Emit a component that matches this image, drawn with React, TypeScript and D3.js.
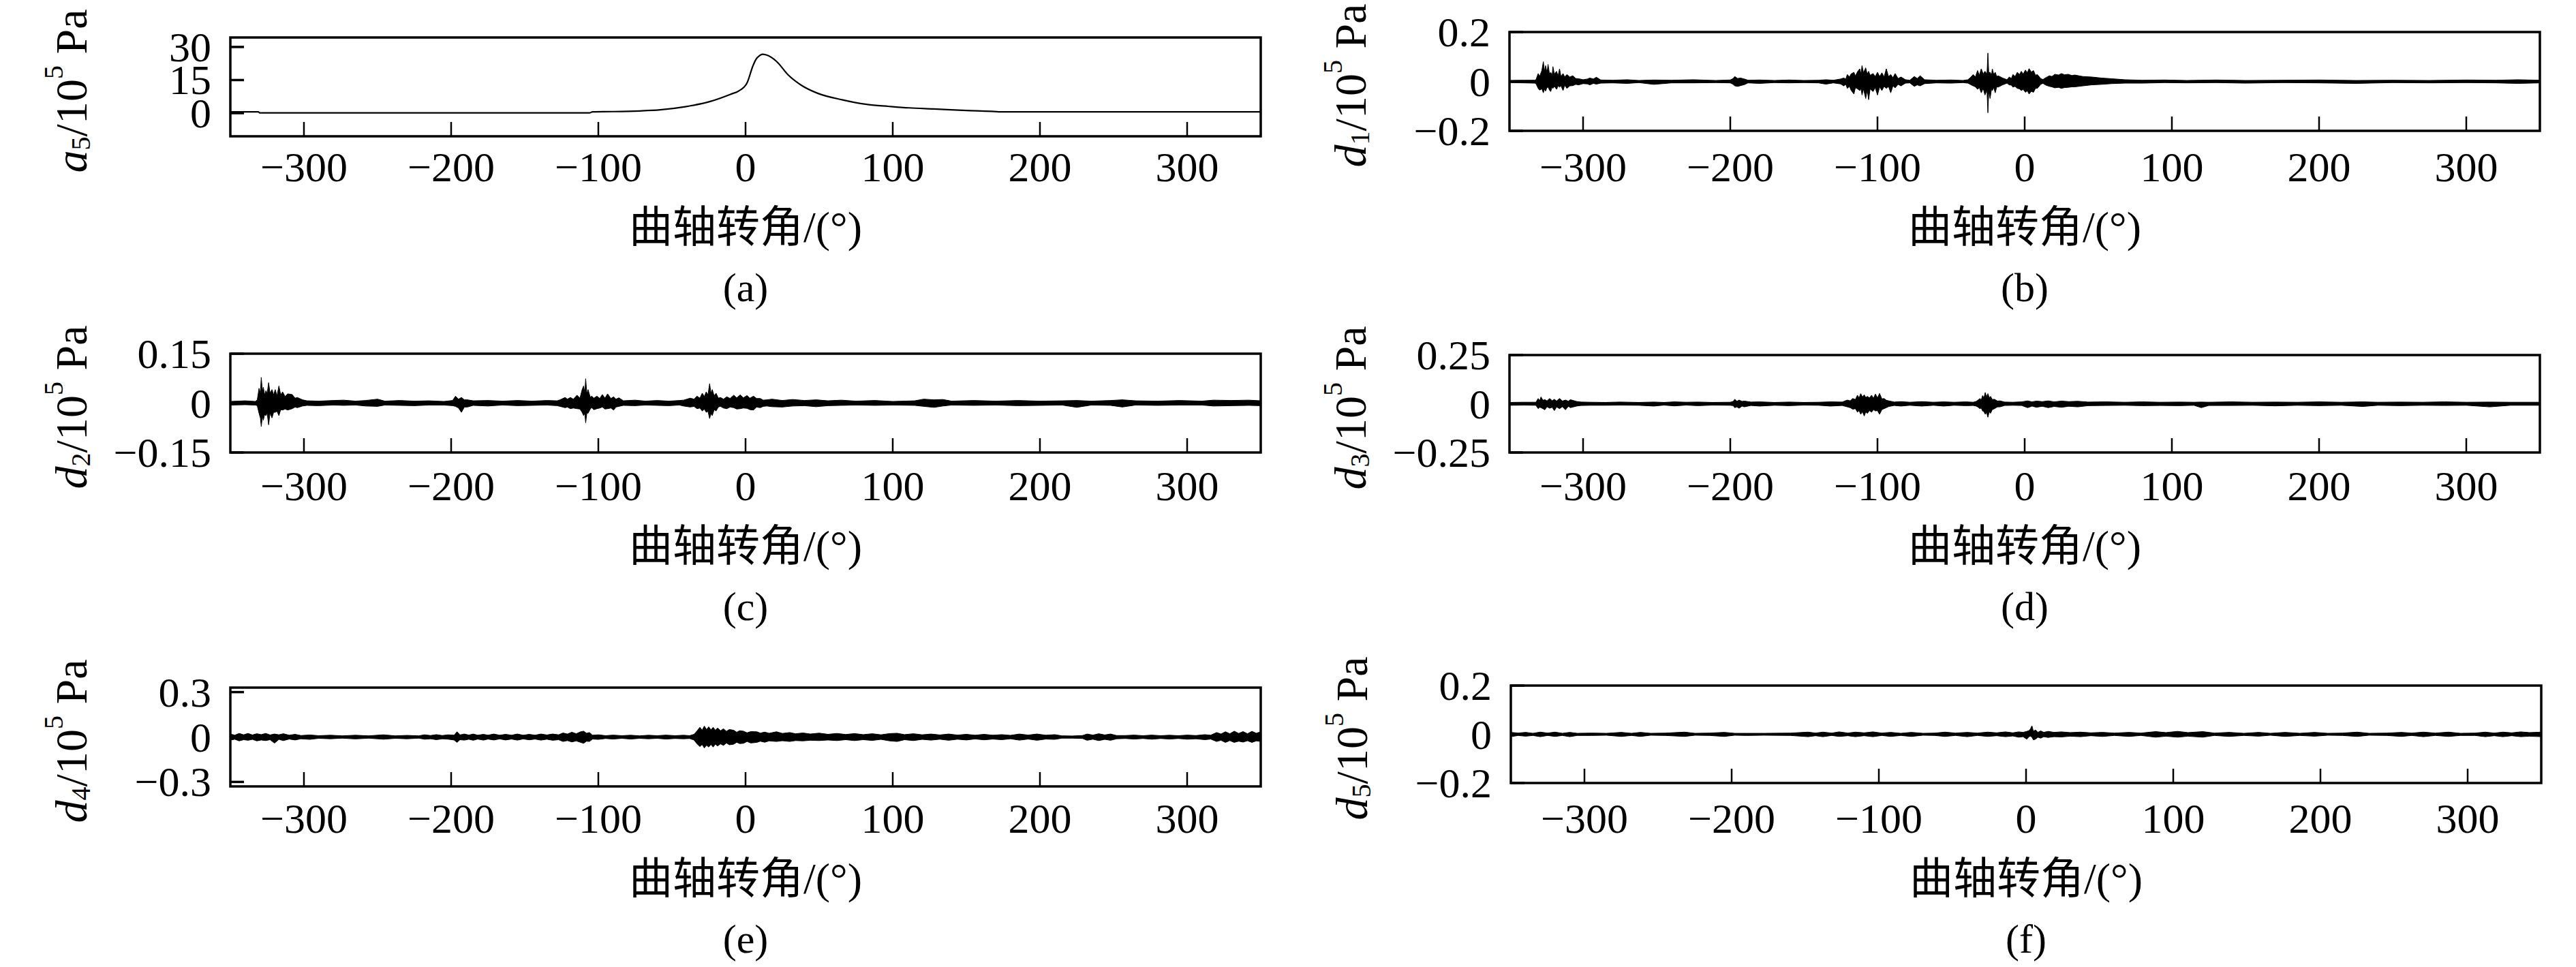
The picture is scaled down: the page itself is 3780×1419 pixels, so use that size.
import React from 'react';
import * as d3 from 'd3';

type Env = [number, number, number]; // angle, upper, lower
type Pt = [number, number];

const angleTicks = [-300, -200, -100, 0, 100, 200, 300];

const a5Ticks = [0, 15, 30];
const d1Ticks = [-0.2, 0, 0.2];
const d2Ticks = [-0.15, 0, 0.15];
const d3Ticks = [-0.25, 0, 0.25];
const d4Ticks = [-0.3, 0, 0.3];
const d5Ticks = [-0.2, 0, 0.2];

// low-frequency approximation a5 (10^5 Pa)
const a5Curve: Pt[] = [
  [-350, 0.6], [-331, 0.6], [-330, 0.1], [-106, 0.1], [-104, 0.6], [-90, 0.7], [-72, 1.0],
  [-58, 1.5], [-41, 2.9], [-24, 5.3], [-10, 8.6], [-4.5, 10.1], [1, 13.7], [5, 21.4],
  [7, 24.3], [9.5, 26.1], [11.5, 26.7], [14, 26.4], [21, 23.5], [29, 17.3], [38, 12.6],
  [49, 9.0], [66, 6.0], [83, 3.9], [97, 3.1], [111, 2.4], [128, 1.9], [150, 1.2],
  [167, 0.8], [172, 0.6], [350, 0.6],
];

// detail signals, read as upper / lower envelope
const d1Env: Env[] = [
  [-350, 0.004, -0.005], [-340, 0.005, -0.006], [-333, 0.005, -0.007], [-332, 0.007, -0.009],
  [-330.5, 0.032, -0.028], [-329.5, 0.02, -0.035], [-328, 0.045, -0.03], [-327, 0.08, -0.046],
  [-326.2, 0.04, -0.03], [-325.5, 0.064, -0.039], [-324.5, 0.035, -0.025], [-323.8, 0.069, -0.023],
  [-322.8, 0.03, -0.035], [-322, 0.037, -0.041], [-321, 0.025, -0.022], [-320.5, 0.06, -0.028],
  [-319.5, 0.03, -0.02], [-318, 0.041, -0.032], [-317, 0.022, -0.018], [-316, 0.051, -0.023],
  [-315, 0.02, -0.018], [-313.6, 0.032, -0.037], [-312.5, 0.018, -0.015], [-311, 0.028, -0.028],
  [-309, 0.018, -0.018], [-307, 0.023, -0.017], [-305, 0.012, -0.012], [-303, 0.011, -0.014],
  [-300, 0.007, -0.009], [-297, 0.01, -0.01], [-295.5, 0.014, -0.014], [-293, 0.01, -0.008],
  [-291, 0.017, -0.011], [-288, 0.006, -0.007], [-280, 0.005, -0.006], [-270, 0.007, -0.008],
  [-262, 0.004, -0.005], [-252, 0.006, -0.012], [-240, 0.005, -0.006], [-225, 0.007, -0.006],
  [-210, 0.004, -0.005], [-200, 0.006, -0.006], [-198, 0.012, -0.012], [-197, 0.02, -0.018],
  [-195, 0.012, -0.02], [-193, 0.014, -0.017], [-190, 0.009, -0.012], [-188, 0.005, -0.006],
  [-180, 0.006, -0.008], [-170, 0.004, -0.005], [-160, 0.006, -0.006], [-150, 0.004, -0.005],
  [-140, 0.005, -0.006], [-135, 0.007, -0.011], [-130, 0.005, -0.006], [-125, 0.01, -0.01],
  [-123, 0.014, -0.018], [-121.5, 0.01, -0.012], [-120.5, 0.028, -0.028], [-119, 0.018, -0.02],
  [-118, 0.03, -0.035], [-116, 0.037, -0.051], [-115, 0.022, -0.025], [-113.5, 0.04, -0.03],
  [-112, 0.051, -0.037], [-111.2, 0.03, -0.028], [-110.5, 0.064, -0.055], [-109.5, 0.035, -0.03],
  [-108, 0.055, -0.069], [-107, 0.03, -0.035], [-106, 0.041, -0.074], [-105, 0.025, -0.03],
  [-103, 0.032, -0.041], [-101.5, 0.02, -0.025], [-100, 0.037, -0.055], [-98.5, 0.02, -0.022],
  [-97, 0.035, -0.037], [-95.5, 0.018, -0.02], [-94, 0.051, -0.028], [-92.5, 0.02, -0.02],
  [-91, 0.028, -0.046], [-89.5, 0.015, -0.018], [-88, 0.032, -0.026], [-86, 0.012, -0.012],
  [-84, 0.018, -0.018], [-81, 0.007, -0.007], [-78, 0.005, -0.006], [-75, 0.02, -0.02],
  [-73, 0.012, -0.014], [-71, 0.023, -0.018], [-68, 0.007, -0.009], [-60, 0.005, -0.006],
  [-50, 0.006, -0.007], [-42, 0.004, -0.005], [-38.6, 0.007, -0.007], [-37, 0.015, -0.012],
  [-35, 0.028, -0.018], [-33.5, 0.018, -0.022], [-32, 0.044, -0.032], [-30.8, 0.025, -0.025],
  [-29.5, 0.051, -0.046], [-28.2, 0.03, -0.028], [-27, 0.041, -0.055], [-25.6, 0.03, -0.035],
  [-25, 0.115, -0.127], [-24.4, 0.035, -0.04], [-23.5, 0.037, -0.069], [-22.5, 0.025, -0.03],
  [-22, 0.051, -0.037], [-21, 0.028, -0.025], [-20, 0.037, -0.046], [-19, 0.02, -0.022],
  [-18, 0.023, -0.023], [-15, 0.014, -0.014], [-12, 0.007, -0.007], [-10.5, 0.018, -0.014],
  [-9, 0.012, -0.015], [-8, 0.028, -0.023], [-6.5, 0.02, -0.02], [-5, 0.037, -0.028],
  [-3.5, 0.028, -0.03], [-2.3, 0.041, -0.037], [-1, 0.03, -0.032], [0.5, 0.046, -0.044],
  [1.8, 0.035, -0.038], [3, 0.052, -0.051], [4.5, 0.038, -0.04], [6, 0.044, -0.044],
  [7.3, 0.025, -0.028], [8.6, 0.028, -0.028], [11, 0.011, -0.011], [12.5, 0.008, -0.008],
  [14, 0.014, -0.014], [16.8, 0.023, -0.02], [18.5, 0.02, -0.022], [20.5, 0.029, -0.026],
  [23, 0.026, -0.024], [25, 0.032, -0.028], [27, 0.027, -0.025], [29.5, 0.029, -0.024],
  [32, 0.024, -0.022], [34, 0.026, -0.022], [39.5, 0.02, -0.018], [45.5, 0.018, -0.014],
  [52, 0.014, -0.012], [59, 0.011, -0.009], [68, 0.007, -0.007], [80, 0.005, -0.007],
  [95, 0.006, -0.005], [110, 0.004, -0.006], [130, 0.006, -0.005], [150, 0.004, -0.007],
  [175, 0.005, -0.005], [200, 0.006, -0.006], [225, 0.004, -0.008], [250, 0.005, -0.005],
  [275, 0.004, -0.006], [300, 0.006, -0.005], [320, 0.005, -0.006], [335, 0.007, -0.008],
  [350, 0.005, -0.006],
];

const d2Env: Env[] = [
  [-350, 0.005, -0.006], [-340, 0.007, -0.005], [-333, 0.005, -0.006], [-331.7, 0.01, -0.008],
  [-330.5, 0.045, -0.031], [-329.6, 0.03, -0.045], [-329, 0.078, -0.071], [-328.2, 0.035, -0.04],
  [-327.6, 0.048, -0.052], [-326.7, 0.025, -0.035], [-325.8, 0.038, -0.038], [-325, 0.028, -0.03],
  [-324, 0.062, -0.066], [-323, 0.03, -0.03], [-321.7, 0.041, -0.045], [-320.6, 0.025, -0.028],
  [-319.5, 0.041, -0.028], [-318.3, 0.022, -0.025], [-317, 0.052, -0.038], [-315.8, 0.025, -0.02],
  [-314.5, 0.034, -0.021], [-312.8, 0.02, -0.018], [-311, 0.028, -0.021], [-308, 0.026, -0.017],
  [-306, 0.015, -0.012], [-304.5, 0.017, -0.014], [-301, 0.01, -0.009], [-298, 0.007, -0.007],
  [-290, 0.006, -0.008], [-280, 0.008, -0.006], [-273, 0.009, -0.007], [-265, 0.006, -0.006],
  [-258, 0.008, -0.009], [-250, 0.012, -0.01], [-245, 0.006, -0.006], [-235, 0.008, -0.007],
  [-225, 0.006, -0.008], [-215, 0.007, -0.006], [-205, 0.005, -0.006], [-199, 0.008, -0.008],
  [-197, 0.021, -0.01], [-195, 0.012, -0.015], [-193, 0.017, -0.028], [-191, 0.01, -0.012],
  [-189, 0.01, -0.012], [-185, 0.007, -0.007], [-175, 0.008, -0.009], [-165, 0.006, -0.006],
  [-155, 0.008, -0.008], [-145, 0.006, -0.007], [-135, 0.008, -0.006], [-128, 0.007, -0.008],
  [-126, 0.01, -0.01], [-122.6, 0.017, -0.014], [-121, 0.012, -0.012], [-119, 0.017, -0.017],
  [-117, 0.012, -0.015], [-114.5, 0.024, -0.017], [-112.5, 0.015, -0.018], [-111, 0.041, -0.028],
  [-110, 0.052, -0.038], [-109.2, 0.03, -0.03], [-108.6, 0.074, -0.06], [-107.8, 0.028, -0.03],
  [-107, 0.041, -0.031], [-105.5, 0.018, -0.018], [-104.5, 0.021, -0.014], [-103, 0.015, -0.02],
  [-101, 0.021, -0.017], [-99, 0.014, -0.015], [-97.3, 0.026, -0.012], [-95.5, 0.015, -0.018],
  [-93.7, 0.028, -0.017], [-91.5, 0.014, -0.015], [-89.6, 0.019, -0.021], [-88, 0.012, -0.012],
  [-86, 0.016, -0.01], [-83, 0.007, -0.007], [-75, 0.009, -0.008], [-68, 0.006, -0.006],
  [-60, 0.008, -0.007], [-52, 0.006, -0.008], [-45, 0.008, -0.006], [-42, 0.009, -0.009],
  [-37.6, 0.015, -0.012], [-35, 0.012, -0.01], [-33, 0.021, -0.017], [-31, 0.015, -0.015],
  [-29.4, 0.03, -0.024], [-28, 0.02, -0.018], [-26.7, 0.034, -0.028], [-25.5, 0.025, -0.025],
  [-24.4, 0.059, -0.047], [-23.5, 0.03, -0.032], [-22.6, 0.041, -0.038], [-21.3, 0.022, -0.02],
  [-20, 0.03, -0.024], [-18.5, 0.015, -0.012], [-17, 0.017, -0.01], [-15, 0.012, -0.015],
  [-12.7, 0.019, -0.017], [-10.5, 0.014, -0.012], [-8, 0.024, -0.014], [-6, 0.016, -0.018],
  [-3.6, 0.025, -0.017], [-1.5, 0.016, -0.015], [1, 0.023, -0.016], [3, 0.015, -0.02],
  [5.4, 0.021, -0.021], [7.5, 0.014, -0.012], [10, 0.014, -0.014], [12, 0.009, -0.01],
  [14.5, 0.01, -0.009], [18, 0.012, -0.011], [25, 0.008, -0.012], [32, 0.011, -0.009],
  [40, 0.008, -0.008], [48, 0.01, -0.011], [56, 0.007, -0.008], [65, 0.009, -0.007],
  [75, 0.006, -0.006], [88, 0.008, -0.007], [100, 0.005, -0.006], [115, 0.007, -0.007],
  [121, 0.012, -0.01], [128, 0.01, -0.013], [134, 0.011, -0.009], [140, 0.006, -0.006],
  [155, 0.008, -0.007], [170, 0.006, -0.006], [185, 0.008, -0.008], [200, 0.006, -0.007],
  [215, 0.007, -0.006], [225, 0.008, -0.013], [235, 0.006, -0.006], [248, 0.008, -0.007],
  [256, 0.01, -0.012], [265, 0.007, -0.006], [280, 0.006, -0.007], [295, 0.008, -0.006],
  [310, 0.006, -0.006], [318, 0.009, -0.009], [330, 0.008, -0.008], [342, 0.009, -0.007],
  [350, 0.007, -0.008],
];

const d3Env: Env[] = [
  [-350, 0.007, -0.008], [-340, 0.008, -0.007], [-332, 0.008, -0.008], [-330.5, 0.027, -0.025],
  [-329.5, 0.015, -0.018], [-328.6, 0.035, -0.02], [-327.3, 0.018, -0.025], [-326, 0.021, -0.031],
  [-324.5, 0.015, -0.015], [-322.7, 0.027, -0.023], [-321, 0.016, -0.018], [-319.5, 0.023, -0.035],
  [-318, 0.014, -0.016], [-316, 0.027, -0.025], [-314, 0.014, -0.015], [-312, 0.019, -0.031],
  [-310, 0.013, -0.013], [-308.6, 0.021, -0.02], [-304.5, 0.012, -0.012], [-301.4, 0.009, -0.009],
  [-295, 0.008, -0.008], [-285, 0.007, -0.008], [-275, 0.009, -0.007], [-262, 0.007, -0.008],
  [-252, 0.009, -0.012], [-245, 0.007, -0.007], [-238, 0.01, -0.011], [-230, 0.008, -0.007],
  [-222, 0.009, -0.01], [-212, 0.007, -0.007], [-200, 0.008, -0.008], [-198, 0.012, -0.01],
  [-197, 0.023, -0.02], [-195.5, 0.013, -0.016], [-194, 0.019, -0.023], [-192, 0.012, -0.012],
  [-190.5, 0.014, -0.016], [-186, 0.009, -0.009], [-180, 0.01, -0.012], [-170, 0.007, -0.008],
  [-160, 0.009, -0.01], [-150, 0.007, -0.007], [-140, 0.008, -0.008], [-132, 0.01, -0.012],
  [-124, 0.009, -0.009], [-120.5, 0.019, -0.016], [-118.5, 0.015, -0.02], [-116.8, 0.027, -0.028],
  [-115, 0.022, -0.025], [-113.6, 0.044, -0.043], [-112.5, 0.03, -0.035], [-111.4, 0.052, -0.054],
  [-110.2, 0.035, -0.04], [-109, 0.046, -0.063], [-108, 0.032, -0.042], [-106.8, 0.038, -0.049],
  [-105.5, 0.03, -0.035], [-104, 0.044, -0.043], [-102.7, 0.028, -0.03], [-101.4, 0.05, -0.037],
  [-100, 0.03, -0.035], [-98.6, 0.053, -0.054], [-97, 0.025, -0.03], [-95.5, 0.027, -0.025],
  [-94, 0.018, -0.02], [-92.3, 0.015, -0.014], [-88.6, 0.009, -0.009], [-84, 0.011, -0.012],
  [-78, 0.008, -0.008], [-70, 0.011, -0.012], [-62, 0.008, -0.008], [-55, 0.01, -0.012],
  [-48, 0.008, -0.008], [-40, 0.01, -0.01], [-35, 0.008, -0.009], [-33, 0.012, -0.012],
  [-31.5, 0.02, -0.018], [-30.5, 0.027, -0.025], [-29.5, 0.02, -0.022], [-28.6, 0.042, -0.037],
  [-27.7, 0.03, -0.04], [-26.8, 0.058, -0.054], [-25.9, 0.035, -0.045], [-25, 0.052, -0.069],
  [-24, 0.03, -0.04], [-23.2, 0.038, -0.049], [-22, 0.022, -0.03], [-20.5, 0.023, -0.025],
  [-18.5, 0.014, -0.016], [-16.8, 0.015, -0.016], [-13.6, 0.009, -0.009], [-8, 0.008, -0.008],
  [-2, 0.01, -0.009], [2, 0.015, -0.02], [5, 0.01, -0.012], [8, 0.014, -0.018],
  [12, 0.011, -0.013], [16, 0.015, -0.02], [20, 0.01, -0.014], [25, 0.014, -0.018],
  [30, 0.011, -0.013], [36, 0.013, -0.016], [43, 0.009, -0.01], [55, 0.01, -0.009],
  [68, 0.008, -0.008], [80, 0.01, -0.01], [92, 0.008, -0.009], [105, 0.009, -0.01],
  [115, 0.008, -0.008], [120, 0.009, -0.02], [125, 0.008, -0.009], [140, 0.01, -0.009],
  [155, 0.008, -0.008], [170, 0.009, -0.011], [185, 0.008, -0.008], [200, 0.01, -0.01],
  [215, 0.008, -0.008], [229.5, 0.01, -0.014], [240, 0.008, -0.008], [255, 0.009, -0.01],
  [270, 0.008, -0.008], [285, 0.01, -0.009], [300, 0.008, -0.008], [316, 0.009, -0.016],
  [330, 0.008, -0.008], [350, 0.008, -0.008],
];

const d4Env: Env[] = [
  [-350, 0.02, -0.021], [-347, 0.012, -0.015], [-344, 0.024, -0.026], [-341, 0.015, -0.018],
  [-338, 0.024, -0.022], [-335, 0.014, -0.016], [-332, 0.022, -0.026], [-329, 0.016, -0.02],
  [-326, 0.024, -0.024], [-323, 0.014, -0.018], [-320, 0.02, -0.041], [-317, 0.015, -0.016],
  [-314, 0.022, -0.024], [-310, 0.012, -0.014], [-306, 0.018, -0.02], [-302, 0.01, -0.012],
  [-296, 0.014, -0.016], [-290, 0.009, -0.009], [-282, 0.012, -0.012], [-274, 0.008, -0.008],
  [-265, 0.012, -0.013], [-256, 0.008, -0.008], [-246, 0.015, -0.015], [-238, 0.008, -0.009],
  [-230, 0.011, -0.012], [-222, 0.008, -0.008], [-218, 0.015, -0.015], [-214, 0.01, -0.012],
  [-210, 0.016, -0.018], [-206, 0.01, -0.012], [-202, 0.015, -0.015], [-198, 0.012, -0.02],
  [-196, 0.035, -0.036], [-194, 0.014, -0.018], [-191, 0.02, -0.021], [-188, 0.013, -0.015],
  [-185, 0.02, -0.022], [-182, 0.012, -0.014], [-178, 0.018, -0.021], [-175, 0.012, -0.014],
  [-171, 0.02, -0.02], [-167, 0.012, -0.013], [-163, 0.018, -0.02], [-159, 0.012, -0.014],
  [-155, 0.02, -0.021], [-151, 0.012, -0.013], [-147, 0.018, -0.019], [-143, 0.012, -0.014],
  [-139, 0.02, -0.021], [-135, 0.014, -0.015], [-131, 0.02, -0.022], [-127, 0.015, -0.018],
  [-124, 0.027, -0.03], [-121, 0.02, -0.024], [-118, 0.032, -0.033], [-115, 0.022, -0.026],
  [-112, 0.035, -0.036], [-110, 0.039, -0.042], [-108, 0.025, -0.028], [-106, 0.03, -0.03],
  [-104, 0.012, -0.014], [-100, 0.015, -0.016], [-95, 0.009, -0.01], [-90, 0.013, -0.014],
  [-84, 0.009, -0.009], [-78, 0.012, -0.014], [-72, 0.008, -0.009], [-66, 0.012, -0.012],
  [-60, 0.009, -0.009], [-54, 0.013, -0.014], [-48, 0.009, -0.01], [-42, 0.012, -0.012],
  [-38, 0.009, -0.01], [-35, 0.018, -0.02], [-33, 0.04, -0.045], [-31, 0.065, -0.064],
  [-29.5, 0.045, -0.05], [-28, 0.073, -0.073], [-26.5, 0.05, -0.055], [-25, 0.068, -0.067],
  [-23.5, 0.048, -0.05], [-22, 0.065, -0.067], [-20.5, 0.045, -0.048], [-19, 0.06, -0.06],
  [-17, 0.042, -0.046], [-15, 0.055, -0.056], [-13, 0.038, -0.04], [-11, 0.05, -0.052],
  [-8, 0.045, -0.048], [-6, 0.032, -0.035], [-4, 0.042, -0.044], [-1.4, 0.039, -0.042],
  [1, 0.028, -0.03], [3.5, 0.036, -0.04], [7.7, 0.035, -0.036], [10, 0.026, -0.028],
  [13, 0.033, -0.035], [16, 0.025, -0.026], [21, 0.035, -0.03], [25, 0.024, -0.025],
  [30, 0.03, -0.03], [34, 0.022, -0.024], [39, 0.027, -0.026], [44, 0.02, -0.022],
  [50, 0.026, -0.024], [56, 0.018, -0.02], [62, 0.024, -0.024], [68, 0.017, -0.018],
  [74, 0.023, -0.024], [80, 0.016, -0.018], [86, 0.022, -0.023], [92, 0.015, -0.016],
  [98, 0.023, -0.026], [103, 0.025, -0.03], [108, 0.016, -0.018], [114, 0.022, -0.024],
  [120, 0.015, -0.016], [126, 0.02, -0.021], [132, 0.014, -0.015], [138, 0.02, -0.022],
  [144, 0.013, -0.015], [150, 0.018, -0.02], [156, 0.012, -0.013], [162, 0.018, -0.019],
  [168, 0.012, -0.014], [174, 0.016, -0.018], [180, 0.011, -0.012], [186, 0.02, -0.021],
  [192, 0.013, -0.014], [198, 0.02, -0.022], [204, 0.012, -0.014], [210, 0.016, -0.016],
  [215, 0.008, -0.008], [222, 0.007, -0.008], [229, 0.01, -0.01], [232, 0.02, -0.022],
  [236, 0.013, -0.015], [240, 0.022, -0.024], [244, 0.014, -0.016], [248, 0.02, -0.022],
  [252, 0.01, -0.012], [258, 0.01, -0.01], [264, 0.013, -0.014], [270, 0.009, -0.01],
  [276, 0.013, -0.015], [282, 0.009, -0.01], [288, 0.012, -0.014], [294, 0.009, -0.01],
  [300, 0.013, -0.015], [306, 0.01, -0.012], [312, 0.016, -0.018], [316, 0.012, -0.014],
  [320, 0.03, -0.03], [323, 0.02, -0.022], [326, 0.035, -0.036], [329, 0.022, -0.024],
  [332, 0.039, -0.036], [335, 0.024, -0.028], [338, 0.036, -0.034], [341, 0.022, -0.025],
  [344, 0.038, -0.036], [347, 0.025, -0.026], [350, 0.035, -0.03],
];

const d5Env: Env[] = [
  [-350, 0.008, -0.01], [-345, 0.005, -0.005], [-340, 0.008, -0.008], [-335, 0.004, -0.005],
  [-330, 0.009, -0.01], [-325, 0.005, -0.005], [-320, 0.009, -0.009], [-315, 0.004, -0.005],
  [-310, 0.008, -0.01], [-305, 0.004, -0.005], [-295, 0.005, -0.005], [-285, 0.004, -0.004],
  [-275, 0.008, -0.009], [-268, 0.004, -0.005], [-262, 0.008, -0.009], [-255, 0.004, -0.004],
  [-245, 0.005, -0.005], [-232, 0.009, -0.009], [-225, 0.004, -0.004], [-215, 0.005, -0.005],
  [-205, 0.008, -0.009], [-198, 0.004, -0.004], [-190, 0.004, -0.005], [-178, 0.004, -0.004],
  [-160, 0.005, -0.005], [-148, 0.009, -0.01], [-143, 0.005, -0.006], [-138, 0.009, -0.01],
  [-132, 0.005, -0.005], [-127, 0.01, -0.009], [-121, 0.005, -0.006], [-116, 0.009, -0.01],
  [-110, 0.006, -0.006], [-104, 0.01, -0.01], [-98, 0.005, -0.005], [-92, 0.008, -0.009],
  [-85, 0.004, -0.005], [-78, 0.008, -0.009], [-70, 0.004, -0.004], [-62, 0.005, -0.005],
  [-55, 0.009, -0.009], [-48, 0.005, -0.005], [-40, 0.008, -0.01], [-33, 0.005, -0.005],
  [-26, 0.009, -0.009], [-20, 0.006, -0.006], [-14, 0.01, -0.01], [-9, 0.006, -0.007],
  [-5, 0.01, -0.012], [-2, 0.008, -0.01], [0.5, 0.012, -0.02], [2, 0.015, -0.01],
  [3, 0.022, -0.008], [4, 0.035, -0.012], [5, 0.012, -0.023], [6.4, 0.018, -0.02],
  [8, 0.008, -0.012], [10, 0.014, -0.016], [12, 0.008, -0.01], [15, 0.012, -0.013],
  [19, 0.008, -0.01], [24, 0.01, -0.011], [30, 0.007, -0.008], [37, 0.009, -0.01],
  [44, 0.006, -0.006], [52, 0.008, -0.009], [60, 0.005, -0.005], [70, 0.008, -0.009],
  [78, 0.005, -0.005], [88, 0.011, -0.012], [95, 0.007, -0.008], [103, 0.012, -0.012],
  [110, 0.007, -0.008], [120, 0.011, -0.012], [128, 0.005, -0.005], [138, 0.008, -0.009],
  [148, 0.004, -0.005], [158, 0.008, -0.008], [166, 0.004, -0.004], [176, 0.008, -0.009],
  [186, 0.004, -0.005], [196, 0.008, -0.008], [205, 0.004, -0.004], [215, 0.005, -0.005],
  [225, 0.009, -0.009], [233, 0.004, -0.004], [245, 0.005, -0.005], [255, 0.008, -0.009],
  [262, 0.005, -0.005], [270, 0.009, -0.01], [278, 0.005, -0.005], [287, 0.009, -0.009],
  [295, 0.004, -0.005], [305, 0.005, -0.005], [312, 0.009, -0.01], [318, 0.005, -0.006],
  [324, 0.009, -0.01], [330, 0.006, -0.006], [336, 0.01, -0.01], [342, 0.007, -0.008],
  [350, 0.009, -0.01],
];

const W = 3780;
const H = 1419;
const BOX_W = 1512;
const SERIF = '"Liberation Serif", "Times New Roman", serif';
const CJK = '"Liberation Serif", "Noto Sans CJK SC", serif';
const XLABEL = '曲轴转角/(°)';

type PanelDef = {
  sym: string;
  sub: string;
  letter: string;
  left: number;
  top: number;
  bottom: number;
  base: number;
  yDomain: [number, number];
  yTicks: number[];
  curve?: Pt[];
  env?: Env[];
};

const panels: PanelDef[] = [
  { sym: 'a', sub: '5', letter: '(a)', left: 338, top: 55, bottom: 200, base: 196, yDomain: [-10.5, 34.3], yTicks: a5Ticks, curve: a5Curve },
  { sym: 'd', sub: '1', letter: '(b)', left: 2215, top: 47, bottom: 192, base: 196, yDomain: [-0.2, 0.2], yTicks: d1Ticks, env: d1Env },
  { sym: 'd', sub: '2', letter: '(c)', left: 338, top: 519, bottom: 664, base: 664, yDomain: [-0.15, 0.15], yTicks: d2Ticks, env: d2Env },
  { sym: 'd', sub: '3', letter: '(d)', left: 2215, top: 521, bottom: 664, base: 664, yDomain: [-0.25, 0.25], yTicks: d3Ticks, env: d3Env },
  { sym: 'd', sub: '4', letter: '(e)', left: 338, top: 1009, bottom: 1154, base: 1152, yDomain: [-0.33, 0.33], yTicks: d4Ticks, env: d4Env },
  { sym: 'd', sub: '5', letter: '(f)', left: 2217, top: 1006, bottom: 1149, base: 1152, yDomain: [-0.2, 0.2], yTicks: d5Ticks, env: d5Env },
];

const fmt = (v: number) => (v < 0 ? `\u2212${Math.abs(v)}` : String(v));

function Panel({ p }: { p: PanelDef }) {
  const right = p.left + BOX_W;
  const x = d3.scaleLinear().domain([-350, 350]).range([p.left, right]);
  const y = d3.scaleLinear().domain(p.yDomain).range([p.bottom, p.top]);
  const midX = (p.left + right) / 2;
  const midY = (p.top + p.bottom) / 2;

  let signal: string | null = null;
  if (p.curve) {
    signal = d3
      .line<Pt>()
      .x((d) => x(d[0]))
      .y((d) => y(d[1]))
      .curve(d3.curveMonotoneX)(p.curve);
  } else if (p.env) {
    signal = d3
      .area<Env>()
      .x((d) => x(d[0]))
      .y0((d) => y(d[2]))
      .y1((d) => y(d[1]))(p.env);
  }

  return (
    <g>
      {p.curve ? (
        <path d={signal ?? ''} fill="none" stroke="#000" strokeWidth={2.2} />
      ) : (
        <path d={signal ?? ''} fill="#000" stroke="#000" strokeWidth={1} strokeLinejoin="miter" />
      )}
      {angleTicks.map((t) => (
        <line key={`xt${t}`} x1={x(t)} x2={x(t)} y1={p.bottom} y2={p.bottom - 21} stroke="#000" strokeWidth={2.5} />
      ))}
      {p.yTicks.map((t) => (
        <line key={`yt${t}`} x1={p.left} x2={p.left + 20} y1={y(t)} y2={y(t)} stroke="#000" strokeWidth={3.5} />
      ))}
      <rect x={p.left} y={p.top} width={BOX_W} height={p.bottom - p.top} fill="none" stroke="#000" strokeWidth={3.5} />

      <g fontFamily={SERIF} fontSize={62} fill="#000">
        {p.yTicks.map((t) => (
          <text key={`yl${t}`} x={p.left - 28} y={y(t)} textAnchor="end" dominantBaseline="central">
            {fmt(t)}
          </text>
        ))}
        {angleTicks.map((t) => (
          <text key={`xl${t}`} x={x(t)} y={p.base + 49} textAnchor="middle" dominantBaseline="central">
            {fmt(t)}
          </text>
        ))}
        <text x={midX} y={p.base + 226} textAnchor="middle" dominantBaseline="central" fontSize={60}>
          {p.letter}
        </text>
      </g>

      <text x={midX} y={p.base + 137} textAnchor="middle" dominantBaseline="central" fontFamily={CJK} fontSize={64}>
        {XLABEL}
      </text>

      <text
        transform={`translate(${p.left - 234},${midY + 6}) rotate(-90)`}
        textAnchor="middle"
        dominantBaseline="central"
        fontFamily={SERIF}
        fontSize={66}
      >
        <tspan fontStyle="italic">{p.sym}</tspan>
        <tspan fontSize={40} dy={14}>{p.sub}</tspan>
        <tspan dy={-14}>/10</tspan>
        <tspan fontSize={40} dy={-26}>5</tspan>
        <tspan dy={26}>{'\u00a0Pa'}</tspan>
      </text>
    </g>
  );
}

export default function App() {
  return (
    <svg
      width={W}
      height={H}
      viewBox={`0 0 ${W} ${H}`}
      style={{ position: 'absolute', left: 0, top: 0, display: 'block', background: '#fff' }}
    >
      <rect x={0} y={0} width={W} height={H} fill="#fff" />
      {panels.map((p) => (
        <Panel key={p.letter} p={p} />
      ))}
    </svg>
  );
}
